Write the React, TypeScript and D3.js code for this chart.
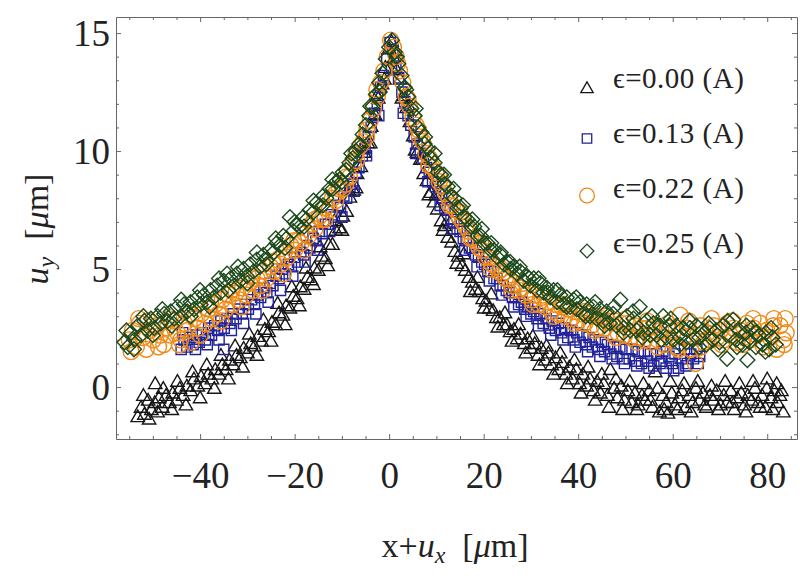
import React, { useRef, useEffect } from 'react';
import * as d3 from 'd3';

// ─── data: [x+u_x, u_y] in µm ──────────────────────────────────

type Pt = [number, number];

const eps000: Pt[] = [
  [-53.2, -1.3], [-52.5, -0.9], [-51.8, -1.2], [-51.0, -0.6], [-50.3, -1.0], [-49.6, -0.7], [-49.5, 0.1],
  [-48.7, -0.5], [-48.0, -0.9], [-47.2, -0.4], [-46.5, -0.7], [-45.8, -0.3], [-45.0, -0.6], [-44.3, -0.1],
  [-43.6, -0.4], [-42.8, 0.0], [-42.0, -0.2], [-41.3, 0.3], [-40.5, 0.0], [-39.8, 0.4], [-39.0, 0.1],
  [-38.3, 0.5], [-37.5, 0.3], [-36.8, 0.7], [-36.0, 0.5], [-35.3, 0.9], [-34.5, 0.7], [-33.8, 1.1],
  [-33.0, 0.9], [-32.3, 1.3], [-31.5, 1.2], [-30.8, 1.6], [-30.0, 1.4], [-29.3, 1.8], [-28.5, 1.7],
  [-27.8, 2.1], [-27.0, 1.9], [-26.3, 2.4], [-25.5, 2.3], [-24.8, 2.7], [-24.0, 2.6], [-23.3, 3.1],
  [-22.5, 3.0], [-21.8, 3.4], [-21.0, 3.3], [-20.3, 3.8], [-19.5, 3.7], [-18.8, 4.2], [-18.0, 4.1],
  [-17.3, 4.6], [-16.5, 4.5], [-15.8, 5.0], [-15.0, 4.9], [-14.3, 5.5], [-13.5, 5.4], [-12.8, 6.0],
  [-12.0, 6.0], [-11.3, 6.6], [-10.5, 6.7], [-9.8, 7.2], [-9.0, 7.4], [-8.3, 8.0], [-7.5, 8.3],
  [-6.8, 9.0], [-6.0, 9.3], [-5.3, 9.9], [-4.5, 10.3], [-3.8, 11.0], [-3.0, 11.5], [-2.3, 12.2],
  [-1.5, 12.8], [-0.8, 13.5], [0.0, 14.3], [0.5, 14.6],
  [1.0, 13.9], [1.6, 13.4], [2.3, 13.0], [3.0, 12.3], [3.7, 11.8], [4.4, 11.2], [5.1, 10.6],
  [5.9, 9.9], [6.6, 9.6], [7.3, 9.0], [8.0, 8.7], [8.8, 8.2], [9.5, 7.8], [10.2, 7.5], [11.0, 7.0],
  [11.7, 6.8], [12.4, 6.3], [13.2, 6.1], [13.9, 5.7], [14.6, 5.5], [15.4, 5.1], [16.1, 4.9],
  [16.8, 4.6], [17.6, 4.4], [18.3, 4.1], [19.0, 4.0], [19.8, 3.7], [20.5, 3.6], [21.2, 3.3],
  [22.0, 3.2], [22.7, 2.9], [23.4, 2.9], [24.2, 2.6], [24.9, 2.6], [25.6, 2.3], [26.4, 2.4],
  [27.1, 2.0], [27.8, 2.2], [28.6, 1.8], [29.3, 2.0], [30.0, 1.6], [30.8, 1.8], [31.5, 1.3],
  [32.2, 1.6], [33.0, 1.1], [33.7, 1.4], [34.4, 0.9], [35.2, 1.2], [35.9, 0.7], [36.6, 1.0],
  [37.4, 0.5], [38.1, 0.8], [38.8, 0.3], [39.6, 0.7], [40.3, 0.1], [41.0, 0.5], [41.8, 0.0],
  [42.5, 0.3], [43.2, -0.2], [44.0, 0.2], [44.7, -0.3], [45.4, 0.1], [46.2, -0.4], [46.8, 0.7],
  [47.6, -0.1], [48.3, -0.5], [49.1, 0.0], [49.8, -0.6], [50.5, -0.2], [51.3, -0.7], [52.0, -0.3],
  [52.7, -0.8], [53.5, -0.4], [54.2, -0.6], [55.0, -0.2], [55.7, -0.9], [56.3, 0.6], [57.2, -1.1],
  [57.9, -0.4], [58.6, -0.7], [59.0, -1.15], [59.8, -0.3], [60.5, -0.8], [61.3, -0.5], [62.0, -0.2],
  [62.7, -0.9], [63.5, -0.4], [64.2, -0.7], [64.9, -0.1], [65.7, -0.6], [66.4, -0.3], [67.1, -0.9],
  [67.9, -0.4], [68.6, -0.6], [69.3, -0.2], [70.1, -0.8], [70.8, -0.4], [71.5, -0.7], [72.3, -0.2],
  [73.0, -1.0], [73.7, -0.5], [74.5, -0.3], [75.2, -0.8], [75.9, -0.4], [76.7, -0.6], [77.4, -0.1],
  [78.1, -0.7], [78.9, -0.4], [79.6, -0.9], [80.0, 0.3], [80.8, -0.5], [81.5, -0.2], [82.2, -0.7],
  [82.7, -0.4], [83.4, -1.1],
  // second pass, wider scatter
  [-52.0, -0.4], [-50.8, -1.4], [-49.0, -1.1], [-47.8, -0.1], [-46.0, -1.0], [-44.8, 0.2], [-43.0, -0.8],
  [-41.6, 0.6], [-40.0, -0.5], [-38.6, 0.9], [-37.0, -0.1], [-35.6, 1.3], [-34.0, 0.3], [-32.6, 1.7],
  [-31.0, 0.8], [-29.6, 2.2], [-28.0, 1.3], [-26.6, 2.8], [-25.0, 1.9], [-23.6, 3.5], [-22.0, 2.6],
  [-20.6, 4.2], [-19.0, 3.4], [-17.6, 5.0], [-16.0, 4.3], [-14.6, 5.9], [-13.0, 5.1], [-11.6, 7.0],
  [-10.0, 6.6], [-8.6, 8.3], [-7.0, 8.4], [-5.6, 10.1], [-4.0, 10.3], [-2.6, 12.3], [-1.0, 13.0],
  [1.3, 14.2], [2.7, 12.2], [4.0, 11.9], [5.5, 10.0], [7.0, 9.6], [8.4, 8.1], [9.9, 8.1], [11.4, 6.6],
  [12.8, 6.9], [14.3, 5.2], [15.8, 5.6], [17.2, 4.0], [18.7, 4.6], [20.1, 3.3], [21.6, 3.9], [23.0, 2.5],
  [24.5, 3.1], [26.0, 1.9], [27.4, 2.6], [28.9, 1.4], [30.4, 2.1], [31.8, 0.9], [33.3, 1.7], [34.8, 0.5],
  [36.2, 1.4], [37.7, 0.1], [39.2, 1.1], [40.6, -0.3], [42.1, 0.8], [43.6, -0.6], [45.0, 0.5], [46.5, -0.9],
  [48.0, 0.3], [49.4, -1.0], [50.9, 0.2], [52.4, -1.0], [53.8, 0.1], [55.3, -0.6], [56.8, -0.1], [58.2, -1.0],
  [59.5, 0.2], [61.0, -1.0], [62.4, 0.1], [63.9, -1.1], [65.3, 0.2], [66.8, -0.8], [68.2, 0.0], [69.7, -1.0],
  [71.1, 0.2], [72.6, -0.7], [74.1, 0.1], [75.5, -1.1], [77.0, 0.2], [78.5, -0.9], [79.9, -0.1], [81.2, -1.0],
  [82.0, 0.1], [83.0, -0.2],
];

const eps013: Pt[] = [
  [-44.0, 1.6], [-43.4, 2.0], [-42.8, 1.7], [-42.1, 2.1], [-41.5, 1.8], [-40.8, 2.2], [-40.2, 1.9],
  [-39.5, 2.3], [-38.9, 2.0], [-38.2, 2.5], [-37.6, 2.2], [-36.9, 2.6], [-36.3, 2.4], [-35.0, 1.6],
  [-35.6, 2.8], [-34.9, 2.5], [-34.3, 2.9], [-33.7, 2.7], [-33.0, 3.1], [-32.4, 2.9], [-31.7, 3.3],
  [-31.1, 3.1], [-30.4, 3.5], [-29.8, 3.3], [-29.1, 3.7], [-28.5, 3.5], [-27.8, 3.9], [-27.2, 3.8],
  [-26.5, 4.2], [-25.9, 4.0], [-25.2, 4.4], [-24.6, 4.3], [-23.9, 4.7], [-23.3, 4.6], [-22.6, 5.0],
  [-22.0, 4.8], [-21.3, 5.2], [-20.7, 5.1], [-20.0, 5.5], [-19.4, 5.3], [-18.7, 5.7], [-18.1, 5.6],
  [-17.4, 6.0], [-16.8, 5.9], [-16.1, 6.3], [-15.5, 6.2], [-14.8, 6.6], [-14.2, 6.5], [-13.5, 6.9],
  [-12.9, 6.9], [-12.2, 7.3], [-11.6, 7.2], [-10.9, 7.7], [-10.3, 7.6], [-9.6, 8.1], [-9.0, 8.0],
  [-8.3, 8.5], [-7.7, 8.6], [-7.0, 9.1], [-6.4, 9.3], [-5.7, 9.8], [-5.1, 10.1], [-4.4, 10.6],
  [-3.8, 11.0], [-3.1, 11.6], [-2.5, 12.0], [-1.8, 12.7], [-1.2, 13.2], [-0.5, 13.9], [0.2, 14.6],
  [0.8, 14.3],
  [1.4, 13.6], [2.0, 13.1], [2.7, 12.5], [3.3, 12.1], [4.0, 11.5], [4.6, 11.1], [5.3, 10.6],
  [5.9, 10.3], [6.6, 9.9], [7.2, 9.7], [7.9, 9.3], [8.5, 9.1], [9.2, 8.7], [9.8, 8.5], [10.5, 8.2],
  [11.1, 8.0], [11.8, 7.6], [12.4, 7.5], [13.1, 7.1], [13.7, 7.0], [14.4, 6.7], [15.0, 6.6],
  [15.7, 6.3], [16.3, 6.2], [17.0, 5.9], [17.6, 5.9], [18.3, 5.6], [18.9, 5.5], [19.6, 5.3],
  [20.2, 5.2], [20.9, 4.9], [21.5, 4.9], [22.2, 4.6], [22.8, 4.6], [23.5, 4.3], [24.1, 4.3],
  [24.8, 4.1], [25.4, 4.0], [26.1, 3.8], [26.7, 3.8], [27.4, 3.5], [28.0, 3.6], [28.7, 3.3],
  [29.3, 3.4], [30.0, 3.1], [30.6, 3.2], [31.3, 2.9], [31.9, 3.1], [32.6, 2.7], [33.2, 2.9],
  [33.9, 2.5], [34.5, 2.8], [35.2, 2.4], [35.8, 2.7], [36.5, 2.3], [37.1, 2.5], [37.8, 2.1],
  [38.4, 2.4], [39.1, 2.0], [39.7, 2.3], [40.4, 1.9], [41.0, 2.2], [41.7, 1.8], [42.3, 2.1],
  [43.0, 1.7], [43.6, 2.0], [44.3, 1.6], [44.9, 1.9], [45.6, 1.5], [46.2, 1.8], [46.9, 1.4],
  [47.5, 1.7], [48.2, 1.3], [48.8, 1.7], [49.5, 1.2], [50.1, 1.6], [50.8, 1.2], [51.4, 1.6],
  [52.1, 1.1], [52.7, 1.5], [53.4, 1.0], [54.0, 1.5], [54.7, 1.1], [55.3, 1.4], [56.0, 0.9],
  [56.6, 1.4], [57.3, 1.0], [57.9, 1.5], [58.6, 0.8], [59.2, 1.3], [59.9, 1.0], [60.5, 1.4],
  [61.2, 0.8], [61.8, 1.2], [62.5, 1.6], [63.1, 1.0], [63.8, 1.4], [64.4, 1.2], [65.1, 1.6],
  [65.7, 1.3],
  // second pass
  [-43.7, 2.3], [-41.0, 1.6], [-38.5, 1.8], [-36.0, 2.0], [-33.4, 2.4], [-30.8, 2.7], [-28.2, 3.1],
  [-25.6, 3.6], [-23.0, 4.1], [-20.4, 4.7], [-17.8, 5.3], [-15.2, 5.8], [-12.6, 6.6], [-10.0, 7.2],
  [-7.4, 8.3], [-4.8, 9.8], [-2.2, 11.5], [0.5, 13.5], [3.0, 11.6], [5.6, 9.9], [8.2, 8.7], [10.8, 7.7],
  [13.4, 6.7], [16.0, 5.8], [18.6, 5.1], [21.2, 4.5], [23.8, 3.9], [26.4, 3.4], [29.0, 3.0], [31.6, 2.6],
  [34.2, 2.2], [36.8, 2.0], [39.4, 1.7], [42.0, 1.5], [44.6, 1.3], [47.2, 1.2], [49.8, 1.0], [52.4, 0.9],
  [55.0, 0.8], [57.6, 1.1], [60.2, 0.7], [62.8, 0.9], [65.4, 1.0],
];

const eps022: Pt[] = [
  [-55.0, 2.0], [-54.3, 2.4], [-53.5, 1.7], [-52.8, 2.7], [-52.1, 2.1], [-51.4, 1.6], [-50.6, 2.4],
  [-49.9, 2.0], [-49.2, 2.6], [-48.4, 2.2], [-47.7, 1.8], [-47.0, 2.5], [-46.3, 2.2], [-45.5, 2.8],
  [-44.8, 2.3], [-44.1, 2.0], [-43.3, 2.7], [-42.6, 2.4], [-41.9, 1.9], [-41.2, 2.9], [-40.4, 2.5],
  [-39.7, 3.1], [-39.0, 2.7], [-38.2, 3.3], [-37.5, 2.9], [-36.8, 3.5], [-36.1, 3.1], [-35.3, 3.7],
  [-34.6, 3.3], [-33.9, 3.9], [-33.1, 3.5], [-32.4, 4.0], [-31.7, 3.7], [-31.0, 4.2], [-30.2, 3.9],
  [-29.5, 4.4], [-28.8, 4.1], [-28.0, 4.6], [-27.3, 4.3], [-26.6, 4.9], [-25.9, 4.6], [-25.1, 5.1],
  [-24.4, 4.9], [-23.7, 5.4], [-22.9, 5.2], [-22.2, 5.7], [-21.5, 5.5], [-20.8, 6.0], [-20.0, 5.8],
  [-19.3, 6.2], [-18.6, 6.1], [-17.8, 6.5], [-17.1, 6.4], [-16.4, 6.9], [-15.7, 6.7], [-14.9, 7.2],
  [-14.2, 7.1], [-13.5, 7.6], [-12.7, 7.5], [-12.0, 8.0], [-11.3, 7.9], [-10.6, 8.4], [-9.8, 8.4],
  [-9.1, 8.9], [-8.4, 8.9], [-7.6, 9.5], [-6.9, 9.6], [-6.2, 10.2], [-5.5, 10.4], [-4.7, 10.9],
  [-4.0, 11.3], [-3.3, 11.8], [-2.5, 12.3], [-1.8, 12.9], [-1.1, 13.4], [-0.4, 14.0], [0.3, 14.7],
  [0.9, 14.4],
  [1.5, 14.0], [2.2, 13.4], [2.9, 12.9], [3.6, 12.3], [4.3, 11.9], [5.0, 11.4], [5.7, 11.1],
  [6.4, 10.6], [7.1, 10.4], [7.8, 9.9], [8.5, 9.7], [9.2, 9.3], [9.9, 9.1], [10.6, 8.7], [11.3, 8.5],
  [12.0, 8.2], [12.7, 8.0], [13.4, 7.7], [14.1, 7.5], [14.8, 7.2], [15.5, 7.0], [16.2, 6.8],
  [16.9, 6.6], [17.6, 6.3], [18.3, 6.2], [19.0, 5.9], [19.7, 5.8], [20.4, 5.5], [21.1, 5.5],
  [21.8, 5.2], [22.5, 5.1], [23.2, 4.9], [23.9, 4.8], [24.6, 4.6], [25.3, 4.6], [26.0, 4.3],
  [26.7, 4.4], [27.4, 4.1], [28.1, 4.2], [28.8, 3.9], [29.5, 4.0], [30.2, 3.7], [30.9, 3.9],
  [31.6, 3.5], [32.3, 3.8], [33.0, 3.4], [33.7, 3.6], [34.4, 3.2], [35.1, 3.5], [35.8, 3.1],
  [36.5, 3.4], [37.2, 3.0], [37.9, 3.3], [38.6, 2.9], [39.3, 3.2], [40.0, 2.8], [40.7, 3.1],
  [41.4, 2.7], [42.1, 3.1], [42.8, 2.6], [43.5, 3.0], [44.2, 2.5], [44.9, 2.9], [45.6, 2.5],
  [46.3, 2.8], [47.0, 2.3], [47.7, 2.8], [48.4, 2.3], [49.1, 2.7], [49.8, 2.2], [50.5, 2.7],
  [51.2, 2.1], [51.9, 2.6], [52.6, 2.1], [53.3, 2.5], [54.0, 2.0], [54.7, 2.5], [55.4, 1.9],
  [56.1, 2.6], [56.8, 2.0], [57.5, 2.4], [58.2, 1.8], [58.9, 2.5], [59.6, 2.0], [60.3, 2.4],
  [61.0, 1.7], [61.6, 3.05], [62.4, 2.1], [63.1, 2.5], [63.8, 1.6], [64.8, 1.0], [65.2, 2.2],
  [65.9, 2.6], [66.6, 1.9], [67.3, 2.3], [68.0, 2.0], [68.7, 2.6], [69.4, 2.1], [70.1, 2.4],
  [70.8, 2.0], [71.5, 2.7], [72.2, 2.2], [72.9, 2.5], [73.6, 1.9], [74.3, 2.4], [75.0, 2.1],
  [75.7, 2.7], [76.4, 2.0], [77.1, 2.5], [77.8, 2.2], [78.5, 2.7], [79.2, 1.9], [79.9, 2.4],
  [80.6, 2.1], [81.3, 2.6], [82.0, 1.6], [82.7, 2.6], [83.4, 2.0], [84.0, 2.3],
  // second pass
  [-54.6, 1.5], [-53.0, 2.9], [-51.0, 2.8], [-48.8, 1.7], [-46.6, 2.9], [-44.4, 1.8], [-42.2, 3.1],
  [-40.0, 2.2], [-37.8, 3.6], [-35.6, 2.8], [-33.4, 4.1], [-31.2, 3.4], [-29.0, 4.7], [-26.8, 4.1],
  [-24.6, 5.3], [-22.4, 4.8], [-20.2, 6.2], [-18.0, 5.8], [-15.8, 7.1], [-13.6, 7.1], [-11.4, 8.2],
  [-9.2, 8.6], [-7.0, 9.9], [-4.8, 10.6], [-2.6, 12.6], [1.8, 13.7], [4.0, 12.2], [6.2, 10.9],
  [8.4, 9.4], [10.6, 8.9], [12.8, 7.7], [15.0, 7.4], [17.2, 6.3], [19.4, 6.1], [21.6, 5.0], [23.8, 5.0],
  [26.0, 4.1], [28.2, 4.4], [30.4, 3.5], [32.6, 3.9], [34.8, 3.0], [37.0, 3.5], [39.2, 2.7], [41.4, 3.2],
  [43.6, 2.4], [45.8, 3.0], [48.0, 2.1], [50.2, 2.9], [52.4, 1.9], [54.6, 2.8], [56.8, 1.7], [59.0, 2.7],
  [61.2, 1.6], [63.4, 2.8], [66.0, 1.7], [68.2, 2.9], [70.4, 1.8], [72.6, 2.8], [74.8, 1.8], [77.0, 2.9],
  [79.2, 1.7], [81.4, 2.9], [83.6, 1.8], [83.8, 2.9],
];

const eps025: Pt[] = [
  [-56.0, 1.9], [-55.3, 1.7], [-54.6, 2.3], [-53.9, 2.0], [-53.2, 2.6], [-52.5, 2.2], [-51.8, 2.8],
  [-51.1, 2.4], [-50.4, 2.9], [-49.7, 2.5], [-49.0, 3.0], [-48.3, 2.7], [-47.6, 3.1], [-46.9, 2.8],
  [-46.2, 3.2], [-45.5, 2.9], [-44.8, 3.4], [-44.1, 3.0], [-43.4, 3.5], [-42.7, 3.2], [-42.0, 3.6],
  [-41.3, 3.3], [-40.6, 3.8], [-39.9, 3.5], [-39.2, 3.9], [-38.5, 3.6], [-37.8, 4.1], [-37.1, 3.8],
  [-36.4, 4.3], [-35.7, 4.0], [-35.0, 4.5], [-34.3, 4.8], [-33.6, 4.6], [-32.9, 4.3], [-32.2, 4.8],
  [-31.5, 4.5], [-30.8, 5.0], [-30.1, 4.7], [-29.4, 5.2], [-28.7, 4.9], [-28.0, 5.4], [-27.3, 5.1],
  [-26.6, 5.6], [-25.9, 5.4], [-25.2, 5.8], [-24.5, 5.7], [-23.8, 6.1], [-23.1, 6.0], [-22.4, 6.4],
  [-21.7, 6.3], [-21.0, 7.2], [-20.3, 6.6], [-19.6, 6.9], [-18.9, 6.8], [-18.2, 7.2], [-17.5, 7.1],
  [-16.8, 7.5], [-16.1, 7.4], [-15.4, 7.8], [-14.7, 7.7], [-14.0, 8.1], [-13.3, 8.0], [-12.6, 8.4],
  [-11.9, 8.4], [-11.2, 8.7], [-10.5, 8.8], [-9.8, 9.1], [-9.1, 9.2], [-8.4, 9.5], [-7.7, 9.7],
  [-7.0, 10.0], [-6.3, 10.3], [-5.6, 10.7], [-4.9, 11.1], [-4.2, 11.5], [-3.5, 11.9], [-2.8, 12.4],
  [-2.1, 12.9], [-1.4, 13.3], [-0.7, 13.9], [0.0, 14.4], [0.6, 14.7],
  [1.2, 14.2], [1.9, 13.7], [2.6, 13.2], [3.3, 12.7], [4.0, 12.3], [4.7, 11.8], [5.4, 11.5],
  [6.1, 11.0], [6.8, 10.8], [7.5, 10.3], [8.2, 10.1], [8.9, 9.7], [9.6, 9.5], [10.3, 9.1],
  [11.0, 9.0], [11.7, 8.6], [12.4, 8.5], [13.1, 8.1], [13.8, 8.0], [14.5, 7.6], [15.2, 7.6],
  [15.9, 7.2], [16.6, 7.1], [17.3, 6.8], [18.0, 6.8], [18.7, 6.4], [19.4, 6.4], [20.1, 6.1],
  [20.8, 6.1], [21.5, 5.8], [22.2, 5.8], [22.9, 5.5], [23.6, 5.6], [24.3, 5.2], [25.0, 5.3],
  [25.7, 5.0], [26.4, 5.1], [27.1, 4.8], [27.8, 4.9], [28.5, 4.5], [29.2, 4.7], [29.9, 4.3],
  [30.6, 4.6], [31.3, 4.1], [32.0, 4.4], [32.7, 4.0], [33.4, 4.2], [34.1, 3.8], [34.8, 4.1],
  [35.5, 3.6], [36.2, 3.9], [36.9, 3.5], [37.6, 3.8], [38.3, 3.4], [39.0, 3.7], [39.7, 3.3],
  [40.4, 3.6], [41.1, 3.1], [41.8, 3.5], [42.5, 3.0], [43.2, 3.4], [43.9, 2.9], [44.6, 3.3],
  [45.3, 2.8], [46.0, 3.2], [46.7, 2.7], [47.4, 3.1], [48.1, 2.6], [48.9, 3.7], [49.6, 2.5],
  [50.3, 3.0], [51.0, 2.4], [51.7, 2.9], [52.4, 2.4], [53.0, 3.4], [53.8, 2.3], [54.5, 2.8],
  [55.2, 2.2], [55.9, 2.7], [56.6, 2.2], [57.3, 2.6], [58.0, 3.0], [58.7, 2.1], [59.4, 2.6],
  [60.1, 2.0], [60.8, 2.6], [61.5, 2.1], [62.2, 2.5], [62.9, 1.9], [63.6, 2.5], [64.3, 2.0],
  [65.0, 2.6], [65.7, 2.1], [66.4, 2.4], [67.1, 1.8], [67.8, 2.5], [68.5, 2.0], [69.2, 2.4],
  [69.9, 1.9], [70.6, 2.6], [71.5, 1.2], [72.0, 2.2], [72.8, 2.85], [73.4, 2.0], [74.1, 2.4],
  [74.8, 1.8], [75.5, 2.3], [75.8, 1.15], [76.2, 1.9], [76.9, 2.5], [77.6, 1.7], [78.3, 2.2],
  [79.0, 1.8], [79.7, 2.3], [80.4, 1.6], [81.1, 2.1], [81.8, 1.8],
  // second pass
  [-55.6, 2.4], [-54.0, 1.6], [-52.0, 3.0], [-50.0, 2.2], [-48.0, 3.3], [-46.0, 2.6], [-44.0, 3.7],
  [-42.0, 3.0], [-40.0, 4.1], [-38.0, 3.4], [-36.0, 4.6], [-34.0, 4.1], [-32.0, 5.1], [-30.0, 4.4],
  [-28.0, 5.7], [-26.0, 5.2], [-24.0, 6.3], [-22.0, 5.9], [-20.0, 7.0], [-18.0, 6.8], [-16.0, 7.9],
  [-14.0, 7.7], [-12.0, 8.8], [-10.0, 8.7], [-8.0, 9.9], [-6.0, 10.2], [-4.0, 11.9], [-2.0, 12.5],
  [1.6, 14.0], [3.6, 12.6], [5.6, 11.8], [7.6, 10.6], [9.6, 9.9], [11.6, 9.0], [13.6, 8.4], [15.6, 7.7],
  [17.6, 7.1], [19.6, 6.7], [21.6, 6.1], [23.6, 5.7], [25.6, 5.3], [27.6, 5.1], [29.6, 4.6], [31.6, 4.6],
  [33.6, 4.0], [35.6, 4.1], [37.6, 3.4], [39.6, 3.8], [41.6, 3.0], [43.6, 3.6], [45.6, 2.6], [47.6, 3.4],
  [49.6, 2.3], [51.6, 3.2], [53.6, 2.1], [55.6, 3.0], [57.6, 2.0], [59.6, 2.9], [61.6, 1.8], [63.6, 2.8],
  [65.6, 1.7], [67.6, 2.7], [69.6, 1.6], [71.6, 2.8], [73.6, 1.7], [75.6, 2.6], [77.6, 2.3], [79.6, 1.5],
  [80.8, 2.5],
];

const seriesLabels = ['ϵ=0.00 (A)', 'ϵ=0.13 (A)', 'ϵ=0.22 (A)', 'ϵ=0.25 (A)'];
const xMajor = [-40, -20, 0, 20, 40, 60, 80];
const yMajor = [0, 5, 10, 15];

// ─── layout ─────────────────────────────────────────────────

const W = 800;
const H = 581;
const FRAME = { left: 116, right: 797, top: 17, bottom: 439 };
const SERIF = '"Liberation Serif", "DejaVu Serif", serif';
const FRAME_COLOR = '#666';

// Mathematica 风格的 ◇（正方形旋转 45°）
const symbolDiamondSquare = {
  draw(ctx: any, size: number) {
    const r = Math.sqrt(size) * 0.63;
    ctx.moveTo(0, -r);
    ctx.lineTo(r, 0);
    ctx.lineTo(0, r);
    ctx.lineTo(-r, 0);
    ctx.closePath();
  },
};

const series = [
  { data: eps000, type: d3.symbolTriangle, size: 78, color: '#161616', legendDy: 1 },
  { data: eps013, type: d3.symbolSquare, size: 105, color: '#22229a', legendDy: -4.5 },
  { data: eps022, type: d3.symbolCircle, size: 200, color: '#ef8a17', legendDy: -2.5 },
  { data: eps025, type: symbolDiamondSquare, size: 140, color: '#1c4a1c', legendDy: -2 },
];

const fmtTick = (d: number) => (d < 0 ? `\u2212${-d}` : `${d}`);

export default function App() {
  const svgRef = useRef<SVGSVGElement>(null);

  useEffect(() => {
    if (!svgRef.current) return;
    const svg = d3.select(svgRef.current);
    svg.selectAll('*').remove();

    const x = d3.scaleLinear().domain([-57.8, 86.3]).range([FRAME.left, FRAME.right]);
    const y = d3.scaleLinear().domain([-2.2, 15.68]).range([FRAME.bottom, FRAME.top]);

    const xMinor = d3.range(-55, 86, 5).filter(v => !xMajor.includes(v));
    const yMinor = d3.range(-2, 16, 1).filter(v => !yMajor.includes(v));

    // ─── frame + ticks (all inward) ───
    const addAxis = (axis: any, transform: string, labels: boolean) => {
      const g = svg.append('g').attr('transform', transform).call(axis);
      g.attr('font-family', SERIF).attr('font-size', 37);
      g.selectAll('.domain, .tick line').attr('stroke', FRAME_COLOR).attr('stroke-width', 1);
      if (!labels) g.selectAll('text').remove();
      else g.selectAll('text').attr('fill', '#222');
      return g;
    };
    const minor = (axis: any, transform: string) => {
      const g = addAxis(axis.tickSize(-3).tickFormat(() => ''), transform, false);
      g.select('.domain').remove();
    };

    const gx = addAxis(
      d3.axisBottom(x).tickValues(xMajor).tickSize(-5).tickSizeOuter(0).tickFormat(fmtTick as any),
      `translate(0,${FRAME.bottom})`, true,
    );
    gx.selectAll('text').attr('y', 49).attr('dy', null);
    minor(d3.axisBottom(x).tickValues(xMinor), `translate(0,${FRAME.bottom})`);

    addAxis(d3.axisTop(x).tickValues(xMajor).tickSize(-5).tickSizeOuter(0), `translate(0,${FRAME.top})`, false);
    minor(d3.axisTop(x).tickValues(xMinor), `translate(0,${FRAME.top})`);

    const gy = addAxis(
      d3.axisLeft(y).tickValues(yMajor).tickSize(-5).tickSizeOuter(0).tickPadding(6).tickFormat(fmtTick as any),
      `translate(${FRAME.left},0)`, true,
    );
    gy.selectAll('text').attr('x', -6).attr('dy', '0.34em');
    minor(d3.axisLeft(y).tickValues(yMinor), `translate(${FRAME.left},0)`);

    addAxis(d3.axisRight(y).tickValues(yMajor).tickSize(-5).tickSizeOuter(0), `translate(${FRAME.right},0)`, false);
    minor(d3.axisRight(y).tickValues(yMinor), `translate(${FRAME.right},0)`);

    // ─── scatter ───
    series.forEach(s => {
      const sym = d3.symbol().type(s.type as any).size(s.size);
      svg.append('g')
        .selectAll('path')
        .data(s.data)
        .enter()
        .append('path')
        .attr('d', sym as any)
        .attr('transform', d => `translate(${x(d[0])},${y(d[1])})`)
        .attr('fill', 'none')
        .attr('stroke', s.color)
        .attr('stroke-width', 1.4);
    });

    // ─── legend ───
    const lg = svg.append('g');
    series.forEach((s, i) => {
      const base = 88 + i * 55;
      lg.append('path')
        .attr('d', d3.symbol().type(s.type as any).size(s.size * 0.85)() as string)
        .attr('transform', `translate(587,${base + s.legendDy})`)
        .attr('fill', 'none')
        .attr('stroke', s.color)
        .attr('stroke-width', 1.3);
      lg.append('text')
        .attr('x', 613).attr('y', base)
        .attr('font-family', SERIF).attr('font-size', 29)
        .attr('fill', '#222')
        .attr('letter-spacing', 0.5)
        .text(seriesLabels[i]);
    });

    // ─── axis titles ───
    const xt = svg.append('text')
      .attr('x', 455).attr('y', 557)
      .attr('text-anchor', 'middle')
      .attr('font-family', SERIF).attr('font-size', 34)
      .attr('fill', '#222');
    xt.append('tspan').text('x+');
    xt.append('tspan').attr('font-style', 'italic').text('u');
    xt.append('tspan').attr('font-style', 'italic').attr('font-size', 24).attr('dy', 6).text('x');
    xt.append('tspan').attr('dy', -6).text('\u00a0\u00a0[');
    xt.append('tspan').attr('font-style', 'italic').text('μ');
    xt.append('tspan').text('m]');

    const yt = svg.append('text')
      .attr('transform', `translate(48,229) rotate(-90)`)
      .attr('text-anchor', 'middle')
      .attr('font-family', SERIF).attr('font-size', 34)
      .attr('fill', '#222');
    yt.append('tspan').attr('font-style', 'italic').text('u');
    yt.append('tspan').attr('font-style', 'italic').attr('font-size', 24).attr('dy', 6).text('y');
    yt.append('tspan').attr('dy', -6).text('\u00a0\u00a0[');
    yt.append('tspan').attr('font-style', 'italic').text('μ');
    yt.append('tspan').text('m]');
  }, []);

  return (
    <svg
      ref={svgRef}
      width={W}
      height={H}
      style={{ position: 'absolute', left: 0, top: 0, background: '#fff' }}
    />
  );
}
